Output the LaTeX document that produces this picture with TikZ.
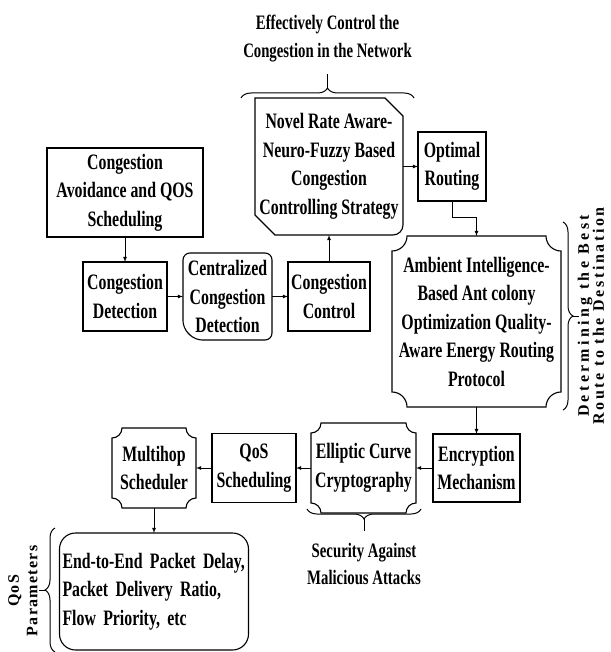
\documentclass[tikz,border=0pt]{standalone}
\usepackage{fontspec}
\setmainfont{Liberation Serif}[FakeStretch=0.72]
\newfontfamily\routefont{Liberation Serif}[LetterSpace=16]
\newfontfamily\paramfont{Liberation Serif}[LetterSpace=8]
\usepackage{tikz}
\usetikzlibrary{positioning,calc,arrows,decorations.pathreplacing}
\tikzset {
    style A/.style={
        draw=black,
        line width=1.1pt,
        rectangle, % Set the shape as a rectangle
        outer sep=0pt,
        inner sep=1pt,
        align=center,
    },
    style B/.style={
        draw=none,
        rectangle, % outline drawn afterwards
        outer sep=0pt,
        inner sep=1pt,
        align=center,
    },
    style C/.style={
        draw=black,
        line width=1.1pt,
        rectangle, % Set the shape as a rectangle
        rounded corners=16pt,
        outer sep=0pt,
        inner sep=3pt,
        align=left,
    },
    style D/.style={
        decorate,
        decoration={brace, amplitude=10pt},
        line width=1pt,
    },
    style E/.style={
        align=center,
        font=\fontsize{20.5}{27.5}\selectfont\bfseries,
    },
}

% box with scooped corners
\newcommand{\scoopframe}[2]{
    \draw[line width=1.1pt]
        ($(#1.north west)+(#2pt,0)$) -- ($(#1.north east)+(-#2pt,0)$)
        arc[start angle=180, end angle=270, radius=#2pt]
        -- ($(#1.south east)+(0,#2pt)$)
        arc[start angle=90, end angle=180, radius=#2pt]
        -- ($(#1.south west)+(#2pt,0)$)
        arc[start angle=0, end angle=90, radius=#2pt]
        -- ($(#1.north west)+(0,-#2pt)$)
        arc[start angle=270, end angle=360, radius=#2pt]
        -- cycle;
}
% box with two cut corners
\newcommand{\cutframe}[1]{
    \draw[line width=1.1pt]
        (#1.north west) -- ($(#1.north east)+(-18pt,0)$)
        -- ($(#1.north east)+(0,-18pt)$) -- ($(#1.south east)+(0,10pt)$)
        arc[start angle=0, end angle=-90, radius=10pt]
        -- ($(#1.south west)+(20pt,0)$) -- ($(#1.south west)+(0,20pt)$) -- cycle;
}
% rounded box with one cut corner
\newcommand{\notchframe}[1]{
    \draw[line width=1.1pt, rounded corners=7pt]
        ($(#1.south west)+(12pt,0)$) -- (#1.south east) -- (#1.north east)
        -- (#1.north west) -- ($(#1.south west)+(0,12pt)$) -- cycle;
}

\begin{document}
\begin{tikzpicture}
        [x=1pt, y=1pt, font=\fontsize{22}{28.5}\selectfont\bfseries, >=latex]

        \useasboundingbox (0,0) rectangle (610,-652);

        \node[style A, minimum width=156pt, minimum height=89pt] at (125,-192.5) (avoid) {Congestion\\Avoidance and QOS\\Scheduling};
        \node[style A, minimum width=84pt, minimum height=69pt] at (125,-296.5) (detect) {Congestion\\Detection};
        \node[style B, minimum width=89pt, minimum height=87pt] at (227.5,-296.5) (central) {Centralized\\Congestion\\Detection};
        \node[style A, minimum width=82pt, minimum height=69pt] at (329,-296.5) (control) {Congestion\\Control};
        \node[style B, minimum width=148pt, minimum height=137pt] at (329,-166.5) (novel) {Novel Rate Aware-\\Neuro-Fuzzy Based\\Congestion\\Controlling Strategy};
        \node[style A, minimum width=68pt, minimum height=69pt] at (452,-166.5) (optimal) {Optimal\\Routing};
        \node[style B, minimum width=169pt, minimum height=171pt] at (476.5,-321.5) (ambient) {Ambient Intelligence-\\Based Ant colony\\Optimization Quality-\\Aware Energy Routing\\Protocol};

        \node[style A, minimum width=87pt, minimum height=68pt] at (476.5,-468) (encrypt) {Encryption\\Mechanism};
        \node[style B, minimum width=105pt, minimum height=90pt] at (363.5,-468) (elliptic) {Elliptic Curve\\Cryptography};
        \node[style A, minimum width=84pt, minimum height=69pt] at (254,-468) (qos) {QoS\\Scheduling};
        \node[style B, minimum width=84pt, minimum height=80pt] at (154,-468) (multihop) {Multihop\\Scheduler};
        \node[style C, text width=183pt, minimum height=117pt] at (154,-591.5) (endToEnd) {End-to-End Packet Delay,\\Packet Delivery Ratio,\\Flow Priority, etc};

        \cutframe{novel}
        \notchframe{central}
        \scoopframe{ambient}{15}
        \scoopframe{elliptic}{10}
        \scoopframe{multihop}{10}

        % labels and braces
        \node[style E] at (327.5,-38.5) (effective) {Effectively Control the\\Congestion in the Network};
        \node[style E] at (364,-564) (security) {Security Against\\Malicious Attacks};
        \node[rotate=90, align=center, inner sep=0pt, font=\routefont\fontsize{16}{15}\selectfont\bfseries] at (591,-316) (bestRoute) {{\addfontfeature{LetterSpace=21}Determining the Best}\\Route to the Destination};
        \node[rotate=90, align=center, font=\paramfont\fontsize{16}{18.5}\selectfont\bfseries] at (23,-591) (qosParam) {QoS\\Parameters};

        \coordinate (topLeft) at (241,-98);
        \coordinate (topRight) at (414,-98);
        \coordinate (topTip) at (327.5,-88);
        \coordinate (topTick) at (327.5,-74);
        \coordinate (rightUp) at (563,-222);
        \coordinate (rightDown) at (563,-410);
        \coordinate (rightTip) at (573,-316);
        \coordinate (rightTick) at (579,-316);
        \coordinate (lowLeft) at (307,-509);
        \coordinate (lowRight) at (421,-509);
        \coordinate (lowTip) at (364,-519);
        \coordinate (lowTick) at (364,-531);
        \coordinate (leftUp) at (55,-528);
        \coordinate (leftDown) at (55,-652);
        \coordinate (leftTip) at (45,-590);
        \coordinate (leftTick) at (39,-590);

        \draw[style D] (topLeft) -- (topRight);
        \draw[style D] (rightUp) -- (rightDown);
        \draw[style D] (lowRight) -- (lowLeft);
        \draw[style D] (leftDown) -- (leftUp);
        \draw[thick] (topTip) -- (topTick);
        \draw[thick] (rightTip) -- (rightTick);
        \draw[thick] (lowTip) -- (lowTick);
        \draw[thick] (leftTip) -- (leftTick);

        % flow
        \draw[thick, ->] (avoid) -- (detect);
        \draw[thick, ->] (detect) -- (central);
        \draw[thick, ->] (central) -- (control);
        \draw[thick, ->] (control) -- (novel);
        \draw[thick, ->] (novel) -- (optimal);
        \draw[thick, ->] (optimal.south) -- ++(0,-16) -| (ambient.north);
        \draw[thick, ->] (ambient) -- (encrypt);
        \draw[thick, ->] (encrypt) -- (elliptic);
        \draw[thick, ->] (elliptic) -- (qos);
        \draw[thick, ->] (qos) -- (multihop);
        \draw[thick, ->] (multihop) -- (endToEnd);
    \end{tikzpicture}
\end{document}
